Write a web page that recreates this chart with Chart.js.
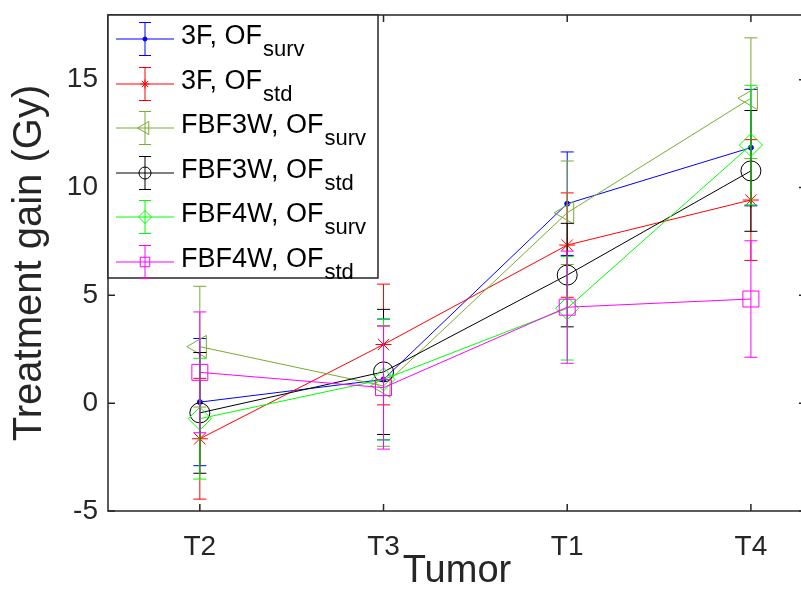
<!DOCTYPE html>
<html><head><meta charset="utf-8">
<script src="https://cdn.jsdelivr.net/npm/chart.js@4.4.0/dist/chart.umd.min.js"></script>
<style>html,body{margin:0;padding:0;background:#fff;overflow:hidden}#wrap{width:801px;height:589px;overflow:hidden;position:relative}</style>
</head><body><div id="wrap"><canvas id="c" width="820" height="589"></canvas></div>
<script>
// ---- data ----
const categories = ['T2', 'T3', 'T1', 'T4'];
const yTickValues = [-5, 0, 5, 10, 15];
const seriesMain = ['3F, OF', '3F, OF', 'FBF3W, OF', 'FBF3W, OF', 'FBF4W, OF', 'FBF4W, OF'];
const seriesSub = ['surv', 'std', 'surv', 'std', 'surv', 'std'];
const val3F_surv = [0.05, 1.1, 9.25, 11.85];
const err3F_surv = [2.95, 2.8, 2.4, 2.7];
const val3F_std = [-1.65, 2.72, 7.33, 9.42];
const err3F_std = [2.8, 2.8, 2.42, 2.8];
const valFBF3W_surv = [2.62, 0.8, 8.83, 14.14];
const errFBF3W_surv = [2.8, 2.8, 2.4, 2.8];
const valFBF3W_std = [-0.45, 1.45, 5.94, 10.77];
const errFBF3W_std = [2.8, 2.9, 2.4, 2.8];
const valFBF4W_surv = [-0.72, 1.1, 4.4, 11.97];
const errFBF4W_surv = [2.8, 2.8, 2.4, 2.77];
const valFBF4W_std = [1.43, 0.72, 4.45, 4.83];
const errFBF4W_std = [2.8, 2.85, 2.6, 2.7];

const values = [val3F_surv, val3F_std, valFBF3W_surv, valFBF3W_std, valFBF4W_surv, valFBF4W_std];
const errors = [err3F_surv, err3F_std, errFBF3W_surv, errFBF3W_std, errFBF4W_surv, errFBF4W_std];

// ---- styles ----
const colors = ['#0000ff', '#ff0000', '#77ac30', '#000000', '#00ff00', '#ff00ff'];
const styles = [
  {ps: 'circle', r: 2.5, rot: 0, fill: true, lr: 2},
  {ps: 'star', r: 8, rot: 0, fill: false, lr: 4.5},
  {ps: 'triangle', r: 13, rot: -90, fill: false, lr: 7.5},
  {ps: 'circle', r: 10, rot: 0, fill: false, lr: 6},
  {ps: 'rectRot', r: 11.5, rot: 0, fill: false, lr: 6.5},
  {ps: 'rect', r: 11.3, rot: 0, fill: false, lr: 6.7}
];
const AX = '#262626';
const FONT = "'Liberation Sans', Arial, Helvetica, sans-serif";
const NONE = 'rgba(0,0,0,0)';

const datasets = values.map((vals, i) => ({
  label: seriesMain[i] + seriesSub[i],
  data: vals.map((v, j) => ({x: j + 1, y: v})),
  borderColor: colors[i],
  backgroundColor: styles[i].fill ? colors[i] : NONE,
  borderWidth: 1,
  pointStyle: styles[i].ps,
  pointRadius: styles[i].r,
  pointRotation: styles[i].rot,
  pointBorderWidth: 1,
  pointBorderColor: colors[i],
  pointBackgroundColor: styles[i].fill ? colors[i] : NONE,
  tension: 0,
  fill: false,
  order: 5 - i
}));

function capBar(ctx, x, y1, y2, half) {
  ctx.beginPath();
  ctx.moveTo(x, y1); ctx.lineTo(x, y2);
  ctx.moveTo(x - half, y1); ctx.lineTo(x + half, y1);
  ctx.moveTo(x - half, y2); ctx.lineTo(x + half, y2);
  ctx.stroke();
}

const errorBarPlugin = {
  id: 'errorBars',
  afterDatasetDraw(chart, args) {
    const i = args.index;
    const ctx = chart.ctx, xs = chart.scales.x, ys = chart.scales.y, a = chart.chartArea;
    ctx.save();
    ctx.beginPath(); ctx.rect(a.left, a.top, a.right - a.left, a.bottom - a.top); ctx.clip();
    ctx.strokeStyle = colors[i]; ctx.lineWidth = 1;
    values[i].forEach((v, j) => {
      const x = xs.getPixelForValue(j + 1);
      capBar(ctx, x, ys.getPixelForValue(v + errors[i][j]), ys.getPixelForValue(v - errors[i][j]), 6.5);
    });
    ctx.restore();
  }
};

const boxPlugin = {
  id: 'boxAxes',
  afterDatasetsDraw(chart) {
    const ctx = chart.ctx, xs = chart.scales.x, ys = chart.scales.y, a = chart.chartArea;
    ctx.save();
    ctx.strokeStyle = AX; ctx.lineWidth = 1.5;
    ctx.strokeRect(a.left, a.top, a.right - a.left, a.bottom - a.top);
    const tl = 7;
    ctx.beginPath();
    xs.ticks.forEach(t => {
      const x = xs.getPixelForValue(t.value);
      ctx.moveTo(x, a.bottom); ctx.lineTo(x, a.bottom - tl);
      ctx.moveTo(x, a.top); ctx.lineTo(x, a.top + tl);
    });
    ys.ticks.forEach(t => {
      const y = ys.getPixelForValue(t.value);
      ctx.moveTo(a.left, y); ctx.lineTo(a.left + tl, y);
      ctx.moveTo(a.right, y); ctx.lineTo(a.right - tl, y);
    });
    ctx.stroke();
    ctx.restore();
  }
};

const legendPlugin = {
  id: 'customLegend',
  afterDraw(chart) {
    const ctx = chart.ctx;
    const L = 108, T = 15, R = 378, B = 278;
    ctx.save();
    ctx.fillStyle = '#fff';
    ctx.fillRect(L, T, R - L, B - T);
    ctx.strokeStyle = AX; ctx.lineWidth = 1.5;
    ctx.strokeRect(L, T, R - L, B - T);
    const rows = [39, 84, 128, 173, 217, 262];
    rows.forEach((y, i) => {
      ctx.strokeStyle = colors[i]; ctx.lineWidth = 1;
      ctx.beginPath(); ctx.moveTo(116, y); ctx.lineTo(174, y); ctx.stroke();
      capBar(ctx, 145, y - 16.5, y + 16.5, 6);
      ctx.fillStyle = styles[i].fill ? colors[i] : NONE;
      ctx.strokeStyle = colors[i];
      Chart.helpers.drawPoint(ctx, {
        pointStyle: styles[i].ps, rotation: styles[i].rot, radius: styles[i].lr, borderWidth: 1
      }, 145, y);
      ctx.fillStyle = '#000';
      ctx.textBaseline = 'alphabetic'; ctx.textAlign = 'left';
      ctx.font = '27px ' + FONT;
      ctx.fillText(seriesMain[i], 181, y + 5);
      const w = ctx.measureText(seriesMain[i]).width;
      ctx.font = '22px ' + FONT;
      ctx.fillText(seriesSub[i], 181 + w + 1, y + 17);
    });
    ctx.restore();
  }
};

new Chart(document.getElementById('c'), {
  type: 'line',
  data: {datasets},
  plugins: [errorBarPlugin, boxPlugin, legendPlugin],
  options: {
    responsive: false,
    animation: false,
    layout: {padding: {top: 15, right: 7, left: 0, bottom: 0}},
    plugins: {legend: {display: false}, tooltip: {enabled: false}},
    scales: {
      x: {
        type: 'linear', min: 0.5, max: 4.3,
        afterBuildTicks: s => { s.ticks = categories.map((c, k) => ({value: k + 1})); },
        afterFit: s => { s.height = 78; s.paddingLeft = 0; s.paddingRight = 0; },
        ticks: {callback: v => categories[v - 1], font: {family: FONT, size: 28}, color: AX, padding: 19, maxRotation: 0},
        grid: {display: false, drawTicks: false},
        border: {display: false},
        title: {display: true, text: 'Tumor', font: {family: FONT, size: 38, lineHeight: 0.9}, color: AX, padding: {top: 0, bottom: 0}}
      },
      y: {
        min: -5, max: 18,
        afterBuildTicks: s => { s.ticks = yTickValues.map(v => ({value: v})); },
        afterFit: s => { s.width = 108; s.paddingTop = 0; s.paddingBottom = 0; },
        ticks: {font: {family: FONT, size: 28}, color: AX, padding: 10},
        grid: {display: false, drawTicks: false},
        border: {display: false},
        title: {display: true, text: 'Treatment gain (Gy)', font: {family: FONT, size: 40, lineHeight: 1}, color: AX, padding: {top: 10, bottom: 0}}
      }
    }
  }
});
</script></body></html>
